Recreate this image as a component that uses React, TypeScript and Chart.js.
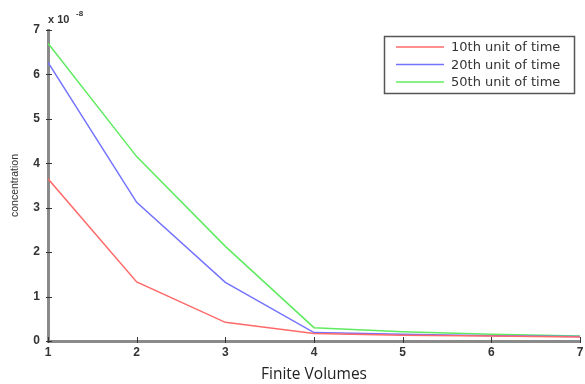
import React, { useEffect, useRef } from "react";
import { Chart, registerables } from "chart.js";

Chart.register(...registerables);

const volumes = [1, 2, 3, 4, 5, 6, 7];
const seriesNames = ["10th unit of time", "20th unit of time", "50th unit of time"];
const red10 = [3.65, 1.33, 0.42, 0.17, 0.13, 0.11, 0.09];
const blue20 = [6.27, 3.12, 1.32, 0.19, 0.15, 0.12, 0.1];
const green50 = [6.7, 4.15, 2.13, 0.3, 0.21, 0.15, 0.11];
const yTicks = [0, 1, 2, 3, 4, 5, 6, 7];
const colors = ["rgb(255,105,105)", "rgb(115,115,255)", "rgb(95,235,95)"];

const overlay = {
  id: "overlay",
  afterDraw(chart: any) {
    const ctx = chart.ctx;
    const x = chart.scales.x;
    const y = chart.scales.y;
    const area = chart.chartArea;
    ctx.save();
    // tick marks
    ctx.strokeStyle = "#333";
    ctx.lineWidth = 1;
    for (const v of volumes) {
      const px = Math.round(x.getPixelForValue(v)) + 0.5;
      ctx.beginPath();
      ctx.moveTo(px, area.bottom + 2);
      ctx.lineTo(px, area.bottom - 4);
      ctx.stroke();
    }
    for (const v of yTicks) {
      const py = Math.round(y.getPixelForValue(v)) + 0.5;
      ctx.beginPath();
      ctx.moveTo(area.left - 2, py);
      ctx.lineTo(area.left + 4, py);
      ctx.stroke();
    }
    // exponent label
    ctx.fillStyle = "#333";
    ctx.font = "bold 11px 'Liberation Sans', Arial, sans-serif";
    ctx.textAlign = "left";
    ctx.textBaseline = "alphabetic";
    ctx.fillText("x 10", 48, 23);
    ctx.font = "bold 8px 'Liberation Sans', Arial, sans-serif";
    ctx.fillText("-8", 76, 16);
    // legend
    const lx = 384, ly = 36, lw = 190, lh = 57;
    ctx.fillStyle = "#fff";
    ctx.fillRect(lx, ly, lw, lh);
    ctx.strokeStyle = "#555";
    ctx.lineWidth = 1.5;
    ctx.strokeRect(lx + 0.5, ly + 0.5, lw, lh);
    ctx.font = "13px 'DejaVu Sans', Verdana, sans-serif";
    ctx.textBaseline = "middle";
    const rows = [47, 64.5, 82];
    seriesNames.forEach((name, i) => {
      ctx.strokeStyle = colors[i];
      ctx.lineWidth = 1.5;
      ctx.beginPath();
      ctx.moveTo(396, rows[i]);
      ctx.lineTo(444, rows[i]);
      ctx.stroke();
      ctx.fillStyle = "#333";
      ctx.fillText(name, 451, rows[i] + 1);
    });
    ctx.restore();
  },
};

export default function App() {
  const ref = useRef<HTMLCanvasElement>(null);
  useEffect(() => {
    if (!ref.current) return;
    const data = [red10, blue20, green50];
    const chart = new Chart(ref.current, {
      type: "line",
      data: {
        datasets: data.map((d, i) => ({
          label: seriesNames[i],
          data: d.map((v, j) => ({ x: volumes[j], y: v })),
          borderColor: colors[i],
          backgroundColor: colors[i],
          borderWidth: 1.5,
          pointRadius: 0,
          tension: 0,
        })),
      },
      options: {
        animation: false,
        responsive: false,
        maintainAspectRatio: false,
        layout: { padding: { top: 30, right: 5, left: 0, bottom: 0 } },
        plugins: { legend: { display: false }, tooltip: { enabled: false } },
        scales: {
          x: {
            type: "linear",
            min: 1,
            max: 7,
            grid: { display: false, drawTicks: false },
            border: { display: true, color: "#8a8a8a", width: 3 },
            ticks: {
              stepSize: 1,
              color: "#333",
              padding: 4,
              font: { family: "'Liberation Sans', Arial, sans-serif", size: 12, weight: "bold" },
            },
            title: {
              display: true,
              text: "Finite Volumes",
              color: "#222",
              padding: { top: 2, bottom: 0 },
              font: { family: "'Open Sans', sans-serif", size: 15.5 },
            },
            afterFit: (s: any) => {
              s.height = 43;
              s.paddingRight = 0;
              s.paddingLeft = 0;
            },
          },
          y: {
            min: 0,
            max: 7,
            grid: { display: false, drawTicks: false },
            border: { display: true, color: "#8a8a8a", width: 3 },
            ticks: {
              stepSize: 1,
              color: "#333",
              padding: 8,
              font: { family: "'Liberation Sans', Arial, sans-serif", size: 12, weight: "bold" },
            },
            title: {
              display: true,
              text: "concentration",
              color: "#333",
              padding: { top: 9, bottom: 0 },
              font: { family: "'Liberation Sans Narrow', 'Liberation Sans', Arial, sans-serif", size: 10.5 },
            },
            afterFit: (s: any) => {
              s.width = 48;
            },
          },
        },
      },
      plugins: [overlay],
    });
    return () => chart.destroy();
  }, []);
  return (
    <div style={{ position: "fixed", left: 0, top: 0, width: 585, height: 384, background: "#fff" }}>
      <canvas ref={ref} width={585} height={384} style={{ display: "block" }} />
    </div>
  );
}
